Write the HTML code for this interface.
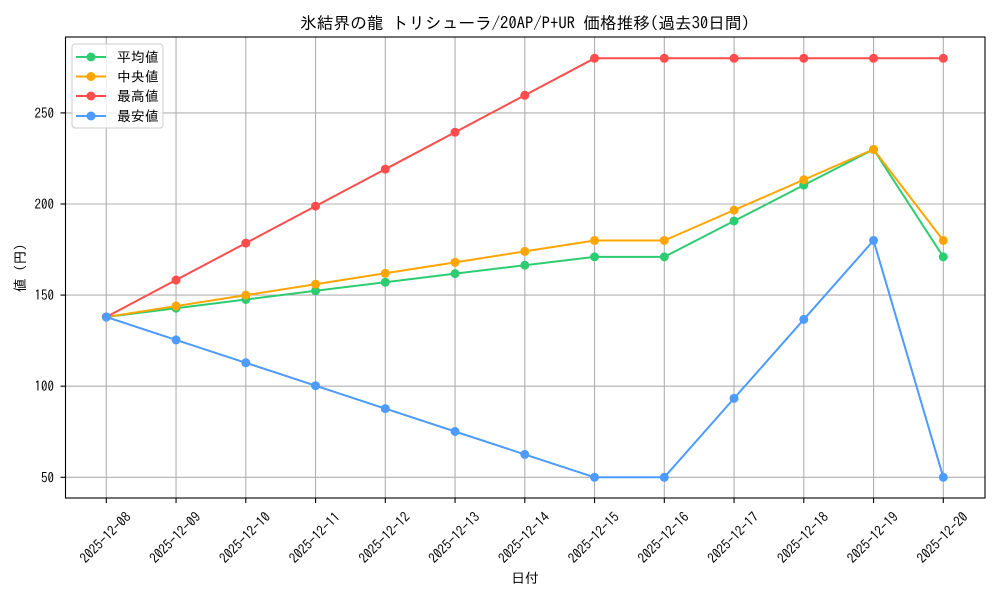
<!DOCTYPE html>
<html><head><meta charset="utf-8"><style>
html,body{margin:0;padding:0;background:#fff;}
svg{display:block;font-family:"IPAGothic","Liberation Sans","Noto Sans CJK JP",sans-serif;}
</style></head><body>
<svg width="1000" height="600" viewBox="0 0 1000 600" xmlns="http://www.w3.org/2000/svg">
<rect x="0" y="0" width="1000" height="600" fill="#fff"/>
<text x="525" y="29" font-size="16.67" text-anchor="middle" fill="#000">氷結界の龍 トリシューラ/20AP/P+UR 価格推移(過去30日間)</text>
<g stroke="#b0b0b0" stroke-width="1.1">
<line x1="106.3" y1="37" x2="106.3" y2="498"/>
<line x1="176.05" y1="37" x2="176.05" y2="498"/>
<line x1="245.8" y1="37" x2="245.8" y2="498"/>
<line x1="315.55" y1="37" x2="315.55" y2="498"/>
<line x1="385.3" y1="37" x2="385.3" y2="498"/>
<line x1="455.05" y1="37" x2="455.05" y2="498"/>
<line x1="524.8" y1="37" x2="524.8" y2="498"/>
<line x1="594.55" y1="37" x2="594.55" y2="498"/>
<line x1="664.3" y1="37" x2="664.3" y2="498"/>
<line x1="734.05" y1="37" x2="734.05" y2="498"/>
<line x1="803.8" y1="37" x2="803.8" y2="498"/>
<line x1="873.55" y1="37" x2="873.55" y2="498"/>
<line x1="943.3" y1="37" x2="943.3" y2="498"/>
<line x1="65.5" y1="477.3" x2="985" y2="477.3"/>
<line x1="65.5" y1="386.2" x2="985" y2="386.2"/>
<line x1="65.5" y1="295.1" x2="985" y2="295.1"/>
<line x1="65.5" y1="204.0" x2="985" y2="204.0"/>
<line x1="65.5" y1="112.9" x2="985" y2="112.9"/>
</g>
<g fill="none" stroke-width="2" stroke-linejoin="round">
<polyline stroke="#2ecc71" points="106.3,316.99 176.05,308.25 245.8,299.5 315.55,290.76 385.3,282.2 455.05,273.63 524.8,265.25 594.55,256.87 664.3,256.87 734.05,220.99 803.8,185.1 873.55,149.39 943.3,256.87"/>
<polyline stroke="#ffa500" points="106.3,316.99 176.05,306.06 245.8,295.13 315.55,284.2 385.3,273.27 455.05,262.34 524.8,251.41 594.55,240.48 664.3,240.48 734.05,210.11 803.8,179.76 873.55,149.39 943.3,240.48"/>
<polyline stroke="#ff4d4d" points="106.3,316.99 176.05,280.03 245.8,243.08 315.55,206.12 385.3,169.18 455.05,132.22 524.8,95.27 594.55,58.31 664.3,58.31 734.05,58.31 803.8,58.31 873.55,58.31 943.3,58.31"/>
<polyline stroke="#4d9bff" points="106.3,316.99 176.05,339.89 245.8,362.79 315.55,385.69 385.3,408.6 455.05,431.5 524.8,454.4 594.55,477.3 664.3,477.3 734.05,398.36 803.8,319.41 873.55,240.48 943.3,477.3"/>
</g>
<g fill="#2ecc71">
<circle cx="106.3" cy="316.99" r="4.5"/><circle cx="176.05" cy="308.25" r="4.5"/><circle cx="245.8" cy="299.5" r="4.5"/><circle cx="315.55" cy="290.76" r="4.5"/><circle cx="385.3" cy="282.2" r="4.5"/><circle cx="455.05" cy="273.63" r="4.5"/><circle cx="524.8" cy="265.25" r="4.5"/><circle cx="594.55" cy="256.87" r="4.5"/><circle cx="664.3" cy="256.87" r="4.5"/><circle cx="734.05" cy="220.99" r="4.5"/><circle cx="803.8" cy="185.1" r="4.5"/><circle cx="873.55" cy="149.39" r="4.5"/><circle cx="943.3" cy="256.87" r="4.5"/>
</g>
<g fill="#ffa500">
<circle cx="106.3" cy="316.99" r="4.5"/><circle cx="176.05" cy="306.06" r="4.5"/><circle cx="245.8" cy="295.13" r="4.5"/><circle cx="315.55" cy="284.2" r="4.5"/><circle cx="385.3" cy="273.27" r="4.5"/><circle cx="455.05" cy="262.34" r="4.5"/><circle cx="524.8" cy="251.41" r="4.5"/><circle cx="594.55" cy="240.48" r="4.5"/><circle cx="664.3" cy="240.48" r="4.5"/><circle cx="734.05" cy="210.11" r="4.5"/><circle cx="803.8" cy="179.76" r="4.5"/><circle cx="873.55" cy="149.39" r="4.5"/><circle cx="943.3" cy="240.48" r="4.5"/>
</g>
<g fill="#ff4d4d">
<circle cx="106.3" cy="316.99" r="4.5"/><circle cx="176.05" cy="280.03" r="4.5"/><circle cx="245.8" cy="243.08" r="4.5"/><circle cx="315.55" cy="206.12" r="4.5"/><circle cx="385.3" cy="169.18" r="4.5"/><circle cx="455.05" cy="132.22" r="4.5"/><circle cx="524.8" cy="95.27" r="4.5"/><circle cx="594.55" cy="58.31" r="4.5"/><circle cx="664.3" cy="58.31" r="4.5"/><circle cx="734.05" cy="58.31" r="4.5"/><circle cx="803.8" cy="58.31" r="4.5"/><circle cx="873.55" cy="58.31" r="4.5"/><circle cx="943.3" cy="58.31" r="4.5"/>
</g>
<g fill="#4d9bff">
<circle cx="106.3" cy="316.99" r="4.5"/><circle cx="176.05" cy="339.89" r="4.5"/><circle cx="245.8" cy="362.79" r="4.5"/><circle cx="315.55" cy="385.69" r="4.5"/><circle cx="385.3" cy="408.6" r="4.5"/><circle cx="455.05" cy="431.5" r="4.5"/><circle cx="524.8" cy="454.4" r="4.5"/><circle cx="594.55" cy="477.3" r="4.5"/><circle cx="664.3" cy="477.3" r="4.5"/><circle cx="734.05" cy="398.36" r="4.5"/><circle cx="803.8" cy="319.41" r="4.5"/><circle cx="873.55" cy="240.48" r="4.5"/><circle cx="943.3" cy="477.3" r="4.5"/>
</g>
<rect x="65.5" y="37" width="919.5" height="461" fill="none" stroke="#000" stroke-width="1.1"/>
<g stroke="#000" stroke-width="1.1">
<line x1="60.5" y1="477.3" x2="65.5" y2="477.3"/>
<line x1="60.5" y1="386.2" x2="65.5" y2="386.2"/>
<line x1="60.5" y1="295.1" x2="65.5" y2="295.1"/>
<line x1="60.5" y1="204.0" x2="65.5" y2="204.0"/>
<line x1="60.5" y1="112.9" x2="65.5" y2="112.9"/>
<line x1="106.3" y1="498" x2="106.3" y2="503"/>
<line x1="176.05" y1="498" x2="176.05" y2="503"/>
<line x1="245.8" y1="498" x2="245.8" y2="503"/>
<line x1="315.55" y1="498" x2="315.55" y2="503"/>
<line x1="385.3" y1="498" x2="385.3" y2="503"/>
<line x1="455.05" y1="498" x2="455.05" y2="503"/>
<line x1="524.8" y1="498" x2="524.8" y2="503"/>
<line x1="594.55" y1="498" x2="594.55" y2="503"/>
<line x1="664.3" y1="498" x2="664.3" y2="503"/>
<line x1="734.05" y1="498" x2="734.05" y2="503"/>
<line x1="803.8" y1="498" x2="803.8" y2="503"/>
<line x1="873.55" y1="498" x2="873.55" y2="503"/>
<line x1="943.3" y1="498" x2="943.3" y2="503"/>
</g>
<g font-size="13.9" fill="#000" text-anchor="end" dominant-baseline="central">
<text x="54" y="477.3" textLength="13" lengthAdjust="spacingAndGlyphs">50</text>
<text x="54" y="386.2" textLength="19.5" lengthAdjust="spacingAndGlyphs">100</text>
<text x="54" y="295.1" textLength="19.5" lengthAdjust="spacingAndGlyphs">150</text>
<text x="54" y="204.0" textLength="19.5" lengthAdjust="spacingAndGlyphs">200</text>
<text x="54" y="112.9" textLength="19.5" lengthAdjust="spacingAndGlyphs">250</text>
</g>
<g font-size="13.9" fill="#000" text-anchor="middle" dominant-baseline="central">
<text x="105.3" y="537.5" transform="rotate(-45 105.3 537.5)" textLength="65" lengthAdjust="spacingAndGlyphs">2025-12-08</text>
<text x="175.05" y="537.5" transform="rotate(-45 175.05 537.5)" textLength="65" lengthAdjust="spacingAndGlyphs">2025-12-09</text>
<text x="244.8" y="537.5" transform="rotate(-45 244.8 537.5)" textLength="65" lengthAdjust="spacingAndGlyphs">2025-12-10</text>
<text x="314.55" y="537.5" transform="rotate(-45 314.55 537.5)" textLength="65" lengthAdjust="spacingAndGlyphs">2025-12-11</text>
<text x="384.3" y="537.5" transform="rotate(-45 384.3 537.5)" textLength="65" lengthAdjust="spacingAndGlyphs">2025-12-12</text>
<text x="454.05" y="537.5" transform="rotate(-45 454.05 537.5)" textLength="65" lengthAdjust="spacingAndGlyphs">2025-12-13</text>
<text x="523.8" y="537.5" transform="rotate(-45 523.8 537.5)" textLength="65" lengthAdjust="spacingAndGlyphs">2025-12-14</text>
<text x="593.55" y="537.5" transform="rotate(-45 593.55 537.5)" textLength="65" lengthAdjust="spacingAndGlyphs">2025-12-15</text>
<text x="663.3" y="537.5" transform="rotate(-45 663.3 537.5)" textLength="65" lengthAdjust="spacingAndGlyphs">2025-12-16</text>
<text x="733.05" y="537.5" transform="rotate(-45 733.05 537.5)" textLength="65" lengthAdjust="spacingAndGlyphs">2025-12-17</text>
<text x="802.8" y="537.5" transform="rotate(-45 802.8 537.5)" textLength="65" lengthAdjust="spacingAndGlyphs">2025-12-18</text>
<text x="872.55" y="537.5" transform="rotate(-45 872.55 537.5)" textLength="65" lengthAdjust="spacingAndGlyphs">2025-12-19</text>
<text x="942.3" y="537.5" transform="rotate(-45 942.3 537.5)" textLength="65" lengthAdjust="spacingAndGlyphs">2025-12-20</text>
</g>
<text x="525" y="578" font-size="13.9" text-anchor="middle" dominant-baseline="central" fill="#000">日付</text>
<text x="20" y="268" font-size="13.9" text-anchor="middle" dominant-baseline="central" fill="#000" transform="rotate(-90 20 268)">値 (円)</text>
<rect x="72" y="44" width="91" height="84" rx="3" ry="3" fill="#fff" fill-opacity="0.8" stroke="#cccccc" stroke-width="1"/>
<g stroke-width="2">
<line x1="76" y1="57" x2="106" y2="57" stroke="#2ecc71"/>
<line x1="76" y1="76.5" x2="106" y2="76.5" stroke="#ffa500"/>
<line x1="76" y1="96" x2="106" y2="96" stroke="#ff4d4d"/>
<line x1="76" y1="116" x2="106" y2="116" stroke="#4d9bff"/>
</g>
<circle cx="91" cy="57" r="4.5" fill="#2ecc71"/>
<circle cx="91" cy="76.5" r="4.5" fill="#ffa500"/>
<circle cx="91" cy="96" r="4.5" fill="#ff4d4d"/>
<circle cx="91" cy="116" r="4.5" fill="#4d9bff"/>
<g font-size="13.9" fill="#000" dominant-baseline="central">
<text x="117" y="57">平均値</text>
<text x="117" y="76.5">中央値</text>
<text x="117" y="96">最高値</text>
<text x="117" y="116">最安値</text>
</g>
</svg>
</body></html>
